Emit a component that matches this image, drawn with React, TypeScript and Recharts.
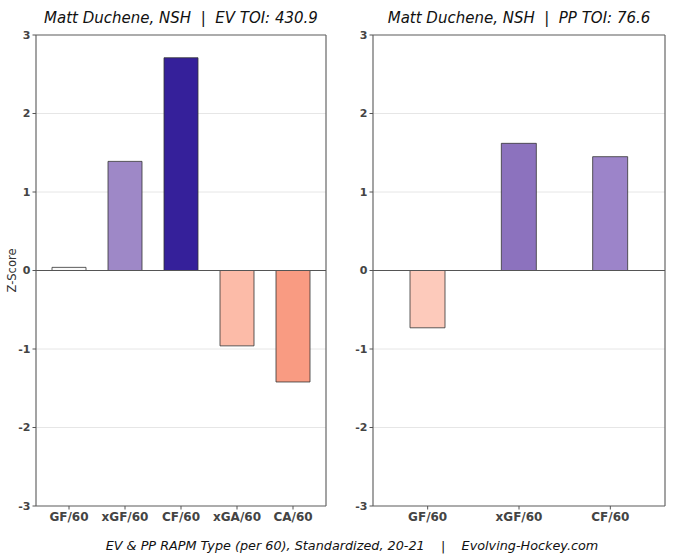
import React from 'react';
import { BarChart, Bar, XAxis, YAxis, CartesianGrid, ReferenceLine, Cell } from 'recharts';

const evCategories = ['GF/60', 'xGF/60', 'CF/60', 'xGA/60', 'CA/60'];
const evValues = [0.04, 1.39, 2.71, -0.96, -1.42];
const ppCategories = ['GF/60', 'xGF/60', 'CF/60'];
const ppValues = [-0.73, 1.62, 1.45];
const yTicks = [-3, -2, -1, 0, 1, 2, 3];

const evColors = ['#fafafa', '#9e88c7', '#35209a', '#fcbba8', '#f99b82'];
const ppColors = ['#fdcabb', '#8c72be', '#9c84c9'];

const evData = evCategories.map((c, i) => ({ cat: c, v: evValues[i] }));
const ppData = ppCategories.map((c, i) => ({ cat: c, v: ppValues[i] }));

const xTickStyle = { fontSize: 12, fontWeight: 'bold', fill: '#444' } as any;
const yTickStyle = { fontSize: 11, fontWeight: 'bold', fill: '#444' } as any;

const frameV = (p: any) => {
  const o = p.offset || {};
  return [o.left, o.left + o.width];
};
const frameH = (p: any) => {
  const o = p.offset || {};
  return [o.top, o.top + o.height];
};

function ZLabel(props: any) {
  const vb = props.viewBox || {};
  const cy = (vb.y || 0) + (vb.height || 0) / 2;
  return (
    <text x={12} y={cy} transform={`rotate(-90, 12, ${cy})`} textAnchor="middle" dominantBaseline="central" fontSize={11.5} fill="#333">
      Z-Score
    </text>
  );
}

function Panel({ data, colors, yWidth, marginRight, pad, barSize, zLabel }: any) {
  return (
    <BarChart
      width={340}
      height={560}
      data={data}
      margin={{ top: 35, right: marginRight, bottom: 30, left: 0 }}
      barCategoryGap={0}
    >
      <CartesianGrid vertical={false} stroke="#e0e0e0" strokeWidth={0.8} />
      <CartesianGrid
        stroke="#666"
        strokeWidth={1.2}
        verticalCoordinatesGenerator={frameV}
        horizontalCoordinatesGenerator={frameH}
      />
      <XAxis
        dataKey="cat"
        padding={pad}
        height={24}
        axisLine={false}
        tickLine={{ stroke: '#555' }}
        tickSize={3.5}
        tickMargin={3}
        tick={xTickStyle}
        interval={0}
      />
      <YAxis
        type="number"
        domain={[-3, 3]}
        ticks={yTicks}
        width={yWidth}
        axisLine={false}
        tickLine={{ stroke: '#555' }}
        tickSize={3.5}
        tickMargin={2}
        tick={yTickStyle}
        label={zLabel ? <ZLabel /> : undefined}
        allowDataOverflow
      />
      <Bar dataKey="v" barSize={barSize} stroke="#333" strokeWidth={0.8} isAnimationActive={false}>
        {data.map((d: any, i: number) => (
          <Cell key={d.cat} fill={colors[i]} />
        ))}
      </Bar>
      <ReferenceLine y={0} stroke="#555" strokeWidth={1.2} />
    </BarChart>
  );
}

export default function App() {
  return (
    <div
      style={{
        position: 'absolute',
        left: 0,
        top: 0,
        width: 680,
        height: 560,
        background: '#fff',
        fontFamily: '"DejaVu Sans", sans-serif',
      }}
    >
      <div style={{ position: 'absolute', left: 0, top: 0 }}>
        <Panel data={evData} colors={evColors} yWidth={36} marginRight={14} pad={{ left: 5, right: 5 }} barSize={34} zLabel />
      </div>
      <div style={{ position: 'absolute', left: 340, top: 0 }}>
        <Panel data={ppData} colors={ppColors} yWidth={33} marginRight={15} pad={{ left: 9, right: 9 }} barSize={35} />
      </div>
      <div
        style={{
          position: 'absolute',
          left: 36,
          width: 290,
          top: 9,
          textAlign: 'center',
          fontStyle: 'italic',
          fontSize: 15,
          whiteSpace: 'pre',
          color: '#111',
        }}
      >
        {'Matt Duchene, NSH  |  EV TOI: 430.9'}
      </div>
      <div
        style={{
          position: 'absolute',
          left: 373,
          width: 292,
          top: 9,
          textAlign: 'center',
          fontStyle: 'italic',
          fontSize: 15,
          whiteSpace: 'pre',
          color: '#111',
        }}
      >
        {'Matt Duchene, NSH  |  PP TOI: 76.6'}
      </div>
      <div
        style={{
          position: 'absolute',
          left: 0,
          width: 704,
          top: 538,
          textAlign: 'center',
          fontStyle: 'italic',
          fontSize: 12.8,
          whiteSpace: 'pre',
          color: '#111',
        }}
      >
        {'EV & PP RAPM Type (per 60), Standardized, 20-21    |    Evolving-Hockey.com'}
      </div>
    </div>
  );
}
